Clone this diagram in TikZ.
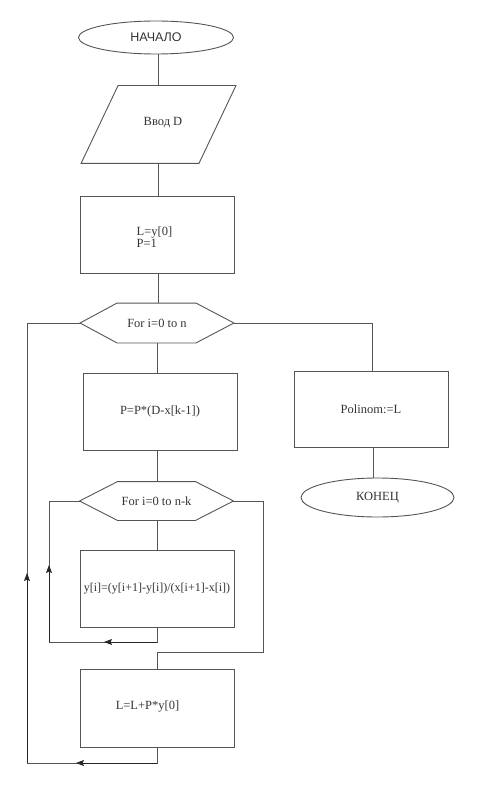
\documentclass[tikz,border=0pt]{standalone}
\usepackage{fontspec}
\setmainfont{Liberation Serif}
\newfontfamily\sansfont{Liberation Sans}
\usetikzlibrary{arrows.meta,shapes.geometric}
\definecolor{lc}{HTML}{555555}
\definecolor{tc}{HTML}{333333}
\begin{document}
\begin{tikzpicture}[x=1pt,y=-1pt,color=lc,line width=0.9pt,
  txt/.style={text=tc,font=\fontsize{12.5}{12}\selectfont,inner sep=0pt},
  box/.style={draw=lc,line width=0.9pt,minimum width=154pt,minimum height=77pt,inner sep=0pt,text=tc,font=\fontsize{12.5}{12}\selectfont},
  term/.style={ellipse,draw=lc,line width=0.9pt,inner sep=0pt,text=tc},
  ghost/.style={minimum width=153pt,minimum height=39pt,inner sep=0pt,text=tc,font=\fontsize{12.5}{12}\selectfont},
  arr/.style={-{Stealth[length=8pt,width=6pt,inset=1.5pt]},draw=black!85,line width=0.9pt}]
\useasboundingbox (0,0) rectangle (485,786);

% nodes
\node[term,minimum width=155pt,minimum height=33pt,font=\sansfont\fontsize{12.5}{14}\selectfont] (start) at (156,37.5) {НАЧАЛО};
\node[minimum width=154pt,minimum height=77pt,inner sep=0pt] (inp) at (158.5,124.5) {};
\node[txt] (inpt) at (163,123) {Ввод D};
\node[box] (init) at (157.5,234.5) {};
\node[txt,align=left] (initt) at (154.5,237) {L=y[0]\\P=1};
\node[ghost] (h1) at (157,323) {For i=0 to n};
\node[box] (pbox) at (160,411.5) {P=P*(D-x[k-1])};
\node[box,minimum height=76pt] (pol) at (371,409) {Polinom:=L};
\node[term,minimum width=153pt,minimum height=39pt,font=\fontsize{12.5}{14}\selectfont] (end) at (377.5,497.5) {КОНЕЦ};
\node[ghost,minimum height=38pt] (h2) at (156.5,501) {For i=0 to n-k};
\node[box,font=\fontsize{12}{14}\selectfont] (ybox) at (157,588.5) {y[i]=(y[i+1]-y[i])/(x[i+1]-x[i])};
\node[box,minimum height=78pt] (lbox) at (157,708) {};
\node[txt] (lboxt) at (147.5,707) {L=L+P*y[0]};

% shapes drawn by hand
\draw ([xshift=37pt]inp.north west) -- (inp.north east) -- ([xshift=-37pt]inp.south east) -- (inp.south west) -- cycle;
\draw (h1.west) -- ([xshift=37pt]h1.north west) -- ([xshift=-38pt]h1.north east) -- (h1.east) -- ([xshift=-38pt]h1.south east) -- ([xshift=37pt]h1.south west) -- cycle;
\draw (h2.west) -- ([xshift=38pt]h2.north west) -- ([xshift=-38pt]h2.north east) -- (h2.east) -- ([xshift=-38pt]h2.south east) -- ([xshift=38pt]h2.south west) -- cycle;

% coordinates for loops
\coordinate (c1) at (27,323);
\coordinate (c2) at (27,763);
\coordinate (c3) at (157,763);
\coordinate (d1) at (49,501);
\coordinate (d2) at (49,642);
\coordinate (d3) at (157,642);
\coordinate (e1) at (263,501);
\coordinate (e2) at (263,652);
\coordinate (e3) at (157,652);
\coordinate (f1) at (372,323);
\coordinate (ua) at (27,573);
\coordinate (ub) at (76,763);
\coordinate (va) at (49,565);
\coordinate (vb) at (104,642);

% connectors
\draw (start.south -| 158,0) -- (158,86);
\draw (158,163) -- (init.north -| 158,0);
\draw (init.south -| 158,0) -- (h1.north -| 158,0);
\draw (h1.south) -- (h1.south |- pbox.north);
\draw (h1.east) -- (f1) -- (f1 |- pol.north);
\draw (pol.south -| 373,0) -- (end.north -| 373,0);
\draw (pbox.south -| h1.south) -- (h2.north -| h1.south);
\draw (h2.south -| h1.south) -- (ybox.north -| h1.south);
\draw (ybox.south) -- (d3) -- (d2) -- (d1) -- (h2.west);
\draw (h2.east) -- (e1) -- (e2) -- (e3) -- (lbox.north);
\draw (lbox.south) -- (c3) -- (c2) -- (c1) -- (h1.west);
\draw[arr] (c2) -- (ua);
\draw[arr] (c3) -- (ub);
\draw[arr] (d2) -- (va);
\draw[arr] (d3) -- (vb);
\end{tikzpicture}
\end{document}
